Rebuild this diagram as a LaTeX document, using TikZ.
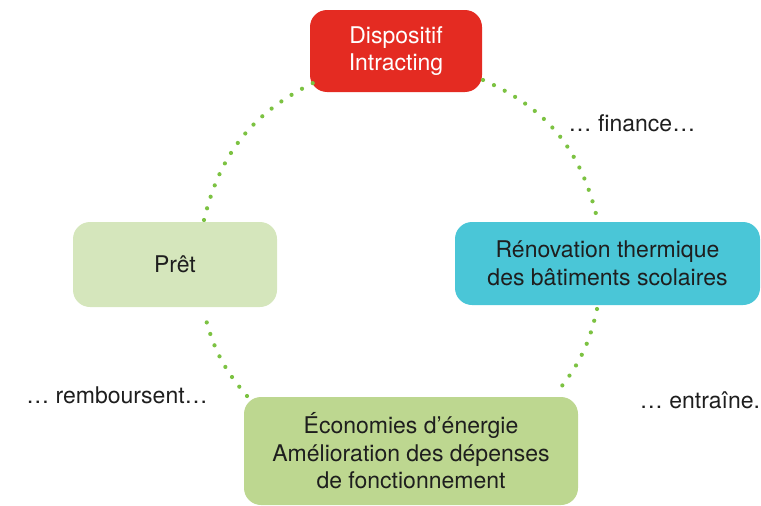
\documentclass[tikz,border=0pt]{standalone}
\usepackage{fontspec}
\setmainfont{TeX Gyre Heros}
\definecolor{redbox}{HTML}{E42B22}
\definecolor{cyanbox}{HTML}{4AC6D7}
\definecolor{pretgreen}{HTML}{D5E6BC}
\definecolor{ecogreen}{HTML}{BDD790}
\definecolor{dotgreen}{HTML}{7CC242}
\definecolor{textgray}{HTML}{1E1E1E}
\begin{document}
\begin{tikzpicture}[x=1pt,y=1pt,
  box/.style={rounded corners=17pt, align=center, inner sep=0pt, font=\fontsize{23}{27.5}\selectfont, text=textgray},
  link/.style={draw=dotgreen, line width=4.2pt, line cap=round, dash pattern=on 0pt off 12.1pt},
  lbl/.style={font=\fontsize{23}{27.5}\selectfont, text=textgray, inner sep=0pt}]
\useasboundingbox (0,0) rectangle (761,-506);
\node[box, fill=redbox, text=white, minimum width=172pt, minimum height=82pt] (disp) at (396,-51) {Dispositif\\Intracting};
\node[box, fill=cyanbox, minimum width=305pt, minimum height=83pt] (reno) at (607.5,-263.5) {Rénovation thermique\\des bâtiments scolaires};
\node[box, fill=pretgreen, minimum width=204pt, minimum height=85pt] (pret) at (175,-264.5) {Prêt};
\node[box, fill=ecogreen, minimum width=334pt, minimum height=108pt] (eco) at (411,-451) {Économies d’énergie\\Amélioration des dépenses\\de fonctionnement};
\coordinate (tl1) at (204,-220);
\coordinate (tl2) at (313,-83);
\coordinate (tr1) at (483,-80);
\coordinate (tr2) at (596,-214);
\coordinate (br1) at (597,-309);
\coordinate (br2) at (558,-391);
\coordinate (bl1) at (247,-396);
\coordinate (bl2) at (205,-316);
\draw[link] (tl1) to[bend left=25] (tl2);
\draw[link] (tr1) to[bend left=26] (tr2);
\draw[link] (br1) to[bend left=13] (br2);
\draw[link] (bl1) to[bend left=13] (bl2);
\node[lbl] (fin) at (632,-123) {… finance…};
\node[lbl] (remb) at (117,-395) {… remboursent…};
\node[lbl] (entr) at (700,-400) {… entraîne.};
\end{tikzpicture}
\end{document}
